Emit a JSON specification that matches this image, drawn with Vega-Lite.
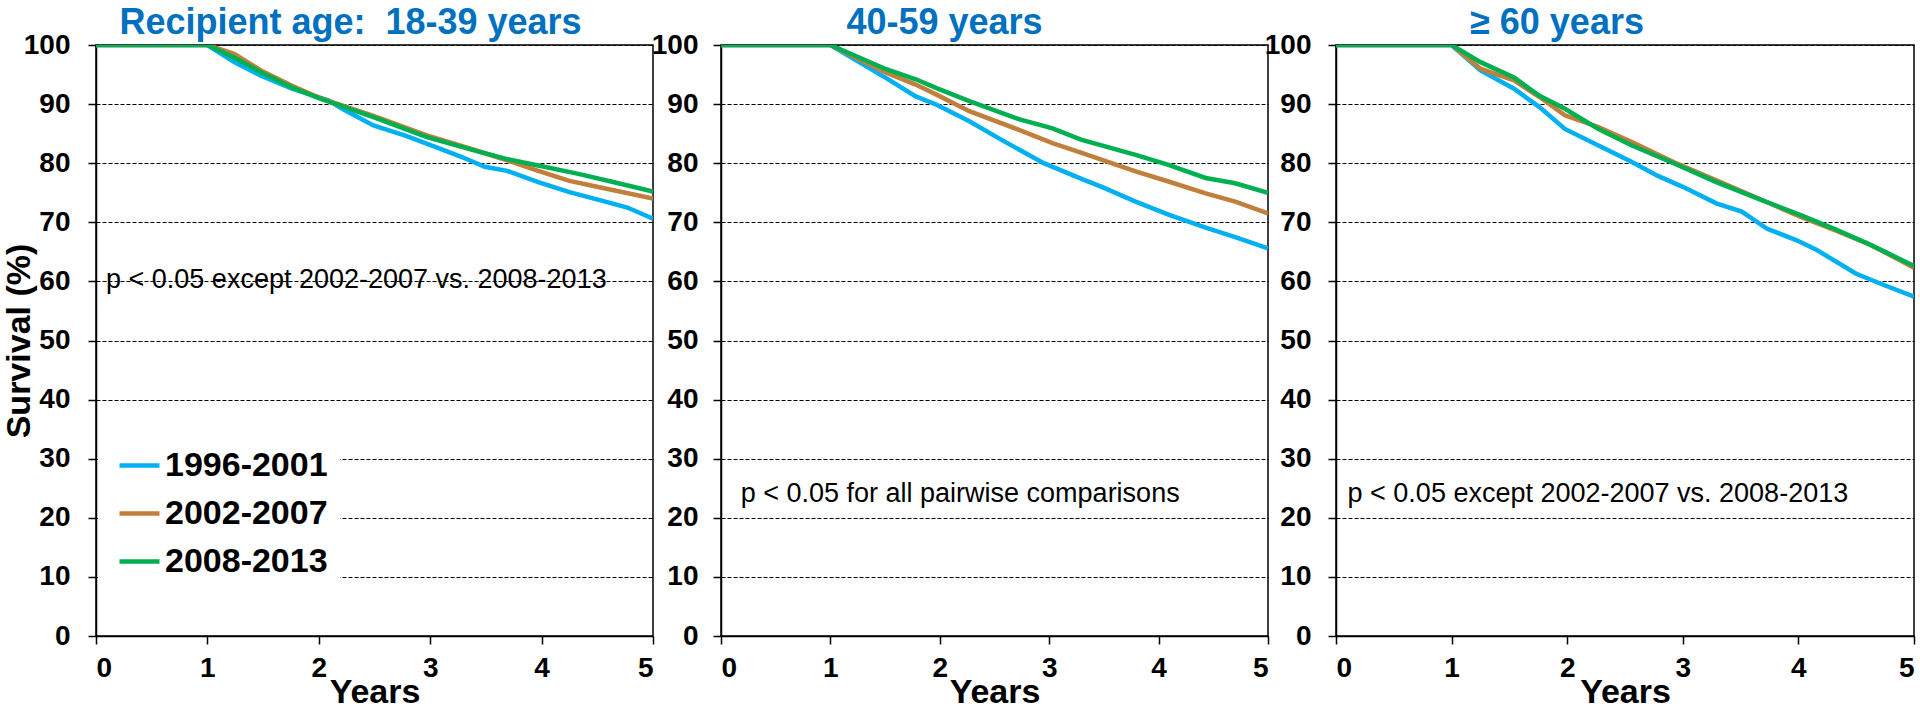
{
  "$schema": "https://vega.github.io/schema/vega-lite/v6.json",
  "background": "white",
  "padding": {"left": 1, "top": 4, "right": 0, "bottom": 0},
  "bounds": "flush",
  "spacing": 68,
  "config": {
    "view": {"stroke": "black", "strokeWidth": 1.5},
    "axis": {
      "domainColor": "black", "domainWidth": 1.5,
      "tickColor": "black", "tickWidth": 1.5, "tickSize": 8,
      "labelFont": "Liberation Sans", "labelFontWeight": "bold", "labelFontSize": 28, "labelColor": "black",
      "titleFont": "Liberation Sans", "titleFontWeight": "bold", "titleFontSize": 34, "titleColor": "black"
    },
    "title": {"font": "Liberation Sans", "fontWeight": "bold", "fontSize": 36, "color": "#0070C0", "anchor": "middle", "frame": "group", "offset": -11}
  },
  "datasets": {
    "curves": [
      {"panel": "a", "cohort": "1996-2001", "year": 0, "survival": 100},
      {"panel": "a", "cohort": "1996-2001", "year": 1, "survival": 100},
      {"panel": "a", "cohort": "1996-2001", "year": 1.24, "survival": 97.1},
      {"panel": "a", "cohort": "1996-2001", "year": 1.48, "survival": 94.8},
      {"panel": "a", "cohort": "1996-2001", "year": 1.76, "survival": 92.6},
      {"panel": "a", "cohort": "1996-2001", "year": 2.09, "survival": 90.6},
      {"panel": "a", "cohort": "1996-2001", "year": 2.21, "survival": 89.2},
      {"panel": "a", "cohort": "1996-2001", "year": 2.49, "survival": 86.4},
      {"panel": "a", "cohort": "1996-2001", "year": 2.77, "survival": 84.7},
      {"panel": "a", "cohort": "1996-2001", "year": 3.01, "survival": 83.0},
      {"panel": "a", "cohort": "1996-2001", "year": 3.29, "survival": 81.0},
      {"panel": "a", "cohort": "1996-2001", "year": 3.49, "survival": 79.4},
      {"panel": "a", "cohort": "1996-2001", "year": 3.69, "survival": 78.7},
      {"panel": "a", "cohort": "1996-2001", "year": 3.97, "survival": 76.8},
      {"panel": "a", "cohort": "1996-2001", "year": 4.25, "survival": 75.1},
      {"panel": "a", "cohort": "1996-2001", "year": 4.53, "survival": 73.7},
      {"panel": "a", "cohort": "1996-2001", "year": 4.77, "survival": 72.5},
      {"panel": "a", "cohort": "1996-2001", "year": 5, "survival": 70.6},
      {"panel": "a", "cohort": "2002-2007", "year": 0, "survival": 100},
      {"panel": "a", "cohort": "2002-2007", "year": 1, "survival": 100},
      {"panel": "a", "cohort": "2002-2007", "year": 1.24, "survival": 98.5},
      {"panel": "a", "cohort": "2002-2007", "year": 1.48, "survival": 95.7},
      {"panel": "a", "cohort": "2002-2007", "year": 1.76, "survival": 93.1},
      {"panel": "a", "cohort": "2002-2007", "year": 2.0, "survival": 91.1},
      {"panel": "a", "cohort": "2002-2007", "year": 2.49, "survival": 88.0},
      {"panel": "a", "cohort": "2002-2007", "year": 2.97, "survival": 84.7},
      {"panel": "a", "cohort": "2002-2007", "year": 3.37, "survival": 82.4},
      {"panel": "a", "cohort": "2002-2007", "year": 3.69, "survival": 80.5},
      {"panel": "a", "cohort": "2002-2007", "year": 3.97, "survival": 78.7},
      {"panel": "a", "cohort": "2002-2007", "year": 4.25, "survival": 77.0},
      {"panel": "a", "cohort": "2002-2007", "year": 4.53, "survival": 75.9},
      {"panel": "a", "cohort": "2002-2007", "year": 5, "survival": 74.0},
      {"panel": "a", "cohort": "2008-2013", "year": 0, "survival": 100},
      {"panel": "a", "cohort": "2008-2013", "year": 1, "survival": 100},
      {"panel": "a", "cohort": "2008-2013", "year": 1.24, "survival": 97.9},
      {"panel": "a", "cohort": "2008-2013", "year": 1.48, "survival": 95.4},
      {"panel": "a", "cohort": "2008-2013", "year": 1.76, "survival": 92.8},
      {"panel": "a", "cohort": "2008-2013", "year": 2.0, "survival": 91.0},
      {"panel": "a", "cohort": "2008-2013", "year": 2.49, "survival": 87.8},
      {"panel": "a", "cohort": "2008-2013", "year": 2.97, "survival": 84.4},
      {"panel": "a", "cohort": "2008-2013", "year": 3.37, "survival": 82.3},
      {"panel": "a", "cohort": "2008-2013", "year": 3.69, "survival": 80.7},
      {"panel": "a", "cohort": "2008-2013", "year": 3.97, "survival": 79.6},
      {"panel": "a", "cohort": "2008-2013", "year": 4.33, "survival": 78.2},
      {"panel": "a", "cohort": "2008-2013", "year": 4.69, "survival": 76.6},
      {"panel": "a", "cohort": "2008-2013", "year": 5, "survival": 75.2},

      {"panel": "b", "cohort": "1996-2001", "year": 0, "survival": 100},
      {"panel": "b", "cohort": "1996-2001", "year": 1, "survival": 100},
      {"panel": "b", "cohort": "1996-2001", "year": 1.51, "survival": 94.4},
      {"panel": "b", "cohort": "1996-2001", "year": 1.78, "survival": 91.3},
      {"panel": "b", "cohort": "1996-2001", "year": 1.97, "survival": 89.9},
      {"panel": "b", "cohort": "1996-2001", "year": 2.27, "survival": 87.1},
      {"panel": "b", "cohort": "1996-2001", "year": 2.54, "survival": 84.2},
      {"panel": "b", "cohort": "1996-2001", "year": 2.95, "survival": 80.0},
      {"panel": "b", "cohort": "1996-2001", "year": 3.29, "survival": 77.4},
      {"panel": "b", "cohort": "1996-2001", "year": 3.48, "survival": 76.0},
      {"panel": "b", "cohort": "1996-2001", "year": 3.79, "survival": 73.5},
      {"panel": "b", "cohort": "1996-2001", "year": 4.09, "survival": 71.3},
      {"panel": "b", "cohort": "1996-2001", "year": 4.43, "survival": 69.1},
      {"panel": "b", "cohort": "1996-2001", "year": 4.70, "survival": 67.5},
      {"panel": "b", "cohort": "1996-2001", "year": 5, "survival": 65.6},
      {"panel": "b", "cohort": "2002-2007", "year": 0, "survival": 100},
      {"panel": "b", "cohort": "2002-2007", "year": 1, "survival": 100},
      {"panel": "b", "cohort": "2002-2007", "year": 1.51, "survival": 95.3},
      {"panel": "b", "cohort": "2002-2007", "year": 1.78, "survival": 93.3},
      {"panel": "b", "cohort": "2002-2007", "year": 1.97, "survival": 91.6},
      {"panel": "b", "cohort": "2002-2007", "year": 2.27, "survival": 88.8},
      {"panel": "b", "cohort": "2002-2007", "year": 2.73, "survival": 85.6},
      {"panel": "b", "cohort": "2002-2007", "year": 3.03, "survival": 83.4},
      {"panel": "b", "cohort": "2002-2007", "year": 3.29, "survival": 81.8},
      {"panel": "b", "cohort": "2002-2007", "year": 3.79, "survival": 78.6},
      {"panel": "b", "cohort": "2002-2007", "year": 4.09, "survival": 76.9},
      {"panel": "b", "cohort": "2002-2007", "year": 4.43, "survival": 74.9},
      {"panel": "b", "cohort": "2002-2007", "year": 4.70, "survival": 73.5},
      {"panel": "b", "cohort": "2002-2007", "year": 5, "survival": 71.5},
      {"panel": "b", "cohort": "2008-2013", "year": 0, "survival": 100},
      {"panel": "b", "cohort": "2008-2013", "year": 1, "survival": 100},
      {"panel": "b", "cohort": "2008-2013", "year": 1.51, "survival": 95.9},
      {"panel": "b", "cohort": "2008-2013", "year": 1.78, "survival": 94.2},
      {"panel": "b", "cohort": "2008-2013", "year": 1.97, "survival": 92.7},
      {"panel": "b", "cohort": "2008-2013", "year": 2.27, "survival": 90.5},
      {"panel": "b", "cohort": "2008-2013", "year": 2.73, "survival": 87.4},
      {"panel": "b", "cohort": "2008-2013", "year": 3.03, "survival": 85.9},
      {"panel": "b", "cohort": "2008-2013", "year": 3.29, "survival": 84.0},
      {"panel": "b", "cohort": "2008-2013", "year": 3.79, "survival": 81.4},
      {"panel": "b", "cohort": "2008-2013", "year": 4.09, "survival": 79.7},
      {"panel": "b", "cohort": "2008-2013", "year": 4.43, "survival": 77.5},
      {"panel": "b", "cohort": "2008-2013", "year": 4.70, "survival": 76.6},
      {"panel": "b", "cohort": "2008-2013", "year": 5, "survival": 75.0},

      {"panel": "c", "cohort": "1996-2001", "year": 0, "survival": 100},
      {"panel": "c", "cohort": "1996-2001", "year": 1, "survival": 100},
      {"panel": "c", "cohort": "1996-2001", "year": 1.25, "survival": 95.7},
      {"panel": "c", "cohort": "1996-2001", "year": 1.54, "survival": 92.6},
      {"panel": "c", "cohort": "1996-2001", "year": 1.76, "survival": 89.5},
      {"panel": "c", "cohort": "1996-2001", "year": 1.98, "survival": 85.8},
      {"panel": "c", "cohort": "1996-2001", "year": 2.27, "survival": 83.0},
      {"panel": "c", "cohort": "1996-2001", "year": 2.56, "survival": 80.2},
      {"panel": "c", "cohort": "1996-2001", "year": 2.78, "survival": 77.9},
      {"panel": "c", "cohort": "1996-2001", "year": 3.0, "survival": 76.0},
      {"panel": "c", "cohort": "1996-2001", "year": 3.29, "survival": 73.2},
      {"panel": "c", "cohort": "1996-2001", "year": 3.51, "survival": 71.8},
      {"panel": "c", "cohort": "1996-2001", "year": 3.73, "survival": 68.9},
      {"panel": "c", "cohort": "1996-2001", "year": 3.98, "survival": 67.0},
      {"panel": "c", "cohort": "1996-2001", "year": 4.16, "survival": 65.3},
      {"panel": "c", "cohort": "1996-2001", "year": 4.5, "survival": 61.3},
      {"panel": "c", "cohort": "1996-2001", "year": 4.75, "survival": 59.3},
      {"panel": "c", "cohort": "1996-2001", "year": 5, "survival": 57.4},
      {"panel": "c", "cohort": "2002-2007", "year": 0, "survival": 100},
      {"panel": "c", "cohort": "2002-2007", "year": 1, "survival": 100},
      {"panel": "c", "cohort": "2002-2007", "year": 1.25, "survival": 96.0},
      {"panel": "c", "cohort": "2002-2007", "year": 1.54, "survival": 94.0},
      {"panel": "c", "cohort": "2002-2007", "year": 1.76, "survival": 91.2},
      {"panel": "c", "cohort": "2002-2007", "year": 1.98, "survival": 88.1},
      {"panel": "c", "cohort": "2002-2007", "year": 2.27, "survival": 86.1},
      {"panel": "c", "cohort": "2002-2007", "year": 2.56, "survival": 83.6},
      {"panel": "c", "cohort": "2002-2007", "year": 2.92, "survival": 80.2},
      {"panel": "c", "cohort": "2002-2007", "year": 3.29, "survival": 77.1},
      {"panel": "c", "cohort": "2002-2007", "year": 3.73, "survival": 73.4},
      {"panel": "c", "cohort": "2002-2007", "year": 4.02, "survival": 70.9},
      {"panel": "c", "cohort": "2002-2007", "year": 4.31, "survival": 68.7},
      {"panel": "c", "cohort": "2002-2007", "year": 4.60, "survival": 66.4},
      {"panel": "c", "cohort": "2002-2007", "year": 4.75, "survival": 64.9},
      {"panel": "c", "cohort": "2002-2007", "year": 5, "survival": 62.3},
      {"panel": "c", "cohort": "2008-2013", "year": 0, "survival": 100},
      {"panel": "c", "cohort": "2008-2013", "year": 1, "survival": 100},
      {"panel": "c", "cohort": "2008-2013", "year": 1.25, "survival": 97.1},
      {"panel": "c", "cohort": "2008-2013", "year": 1.54, "survival": 94.5},
      {"panel": "c", "cohort": "2008-2013", "year": 1.76, "survival": 91.4},
      {"panel": "c", "cohort": "2008-2013", "year": 1.98, "survival": 89.2},
      {"panel": "c", "cohort": "2008-2013", "year": 2.27, "survival": 85.8},
      {"panel": "c", "cohort": "2008-2013", "year": 2.56, "survival": 83.0},
      {"panel": "c", "cohort": "2008-2013", "year": 2.92, "survival": 80.0},
      {"panel": "c", "cohort": "2008-2013", "year": 3.29, "survival": 76.8},
      {"panel": "c", "cohort": "2008-2013", "year": 3.65, "survival": 74.0},
      {"panel": "c", "cohort": "2008-2013", "year": 4.02, "survival": 71.2},
      {"panel": "c", "cohort": "2008-2013", "year": 4.31, "survival": 68.9},
      {"panel": "c", "cohort": "2008-2013", "year": 4.60, "survival": 66.4},
      {"panel": "c", "cohort": "2008-2013", "year": 4.75, "survival": 65.0},
      {"panel": "c", "cohort": "2008-2013", "year": 5, "survival": 62.6}
    ],
    "notes": [
      {"panel": "a", "year": 0.09, "survival": 60.2, "note": "p < 0.05 except 2002-2007 vs. 2008-2013"},
      {"panel": "b", "year": 0.18, "survival": 24.0, "note": "p < 0.05 for all pairwise comparisons"},
      {"panel": "c", "year": 0.1, "survival": 24.0, "note": "p < 0.05 except 2002-2007 vs. 2008-2013"}
    ]
  },
  "resolve": {"scale": {"color": "independent"}, "legend": {"color": "independent"}},
  "hconcat": [
    {
      "width": 557, "height": 591,
      "title": {"text": "Recipient age:\u00a0 18-39 years", "dx": -24},
      "layer": [
        {
          "data": {"name": "curves"},
          "transform": [{"filter": "datum.panel === 'a'"}],
          "mark": {"type": "line", "strokeWidth": 4.5, "clip": true},
          "encoding": {
            "x": {"field": "year", "type": "quantitative", "scale": {"domain": [0, 5], "nice": false},
              "axis": {"title": "Years", "values": [0, 1, 2, 3, 4, 5], "format": "d", "grid": false, "labelPadding": 10, "titlePadding": -7}},
            "y": {"field": "survival", "type": "quantitative", "scale": {"domain": [0, 100], "nice": false},
              "axis": {"title": "Survival (%)", "values": [0, 10, 20, 30, 40, 50, 60, 70, 80, 90, 100], "format": "d", "grid": true, "gridColor": "black", "gridDash": [4, 2], "gridWidth": 1, "labelPadding": 18, "titlePadding": -13}},
            "color": {"field": "cohort", "type": "nominal",
              "scale": {"domain": ["1996-2001", "2002-2007", "2008-2013"], "range": ["#00B0F0", "#C07F3A", "#00B050"]},
              "legend": {"orient": "none", "legendX": 2, "legendY": 386, "title": null, "fillColor": "white", "padding": 12,
                "symbolType": "stroke", "symbolSize": 1600, "symbolStrokeWidth": 4.5, "symbolOffset": 7, "labelOffset": 3, "rowPadding": 8,
                "labelFont": "Liberation Sans", "labelFontSize": 34, "labelFontWeight": "bold", "labelColor": "black", "labelLimit": 400}}
          }
        },
        {
          "data": {"name": "notes"},
          "transform": [{"filter": "datum.panel === 'a'"}],
          "mark": {"type": "text", "align": "left", "baseline": "middle", "font": "Liberation Sans", "fontSize": 27, "color": "black"},
          "encoding": {
            "x": {"field": "year", "type": "quantitative"},
            "y": {"field": "survival", "type": "quantitative"},
            "text": {"field": "note"}
          }
        }
      ]
    },
    {
      "width": 547, "height": 591,
      "title": {"text": "40-59 years", "dx": -50},
      "layer": [
        {
          "data": {"name": "curves"},
          "transform": [{"filter": "datum.panel === 'b'"}],
          "mark": {"type": "line", "strokeWidth": 4.5, "clip": true},
          "encoding": {
            "x": {"field": "year", "type": "quantitative", "scale": {"domain": [0, 5], "nice": false},
              "axis": {"title": "Years", "values": [0, 1, 2, 3, 4, 5], "format": "d", "grid": false, "labelPadding": 10, "titlePadding": -7}},
            "y": {"field": "survival", "type": "quantitative", "scale": {"domain": [0, 100], "nice": false},
              "axis": {"title": null, "values": [0, 10, 20, 30, 40, 50, 60, 70, 80, 90, 100], "format": "d", "grid": true, "gridColor": "black", "gridDash": [4, 2], "gridWidth": 1, "labelPadding": 15}},
            "color": {"field": "cohort", "type": "nominal",
              "scale": {"domain": ["1996-2001", "2002-2007", "2008-2013"], "range": ["#00B0F0", "#C07F3A", "#00B050"]},
              "legend": null}
          }
        },
        {
          "data": {"name": "notes"},
          "transform": [{"filter": "datum.panel === 'b'"}],
          "mark": {"type": "text", "align": "left", "baseline": "middle", "font": "Liberation Sans", "fontSize": 27, "color": "black"},
          "encoding": {
            "x": {"field": "year", "type": "quantitative"},
            "y": {"field": "survival", "type": "quantitative"},
            "text": {"field": "note"}
          }
        }
      ]
    },
    {
      "width": 578, "height": 591,
      "title": {"text": "≥ 60 years", "dx": -68},
      "layer": [
        {
          "data": {"name": "curves"},
          "transform": [{"filter": "datum.panel === 'c'"}],
          "mark": {"type": "line", "strokeWidth": 4.5, "clip": true},
          "encoding": {
            "x": {"field": "year", "type": "quantitative", "scale": {"domain": [0, 5], "nice": false},
              "axis": {"title": "Years", "values": [0, 1, 2, 3, 4, 5], "format": "d", "grid": false, "labelPadding": 10, "titlePadding": -7}},
            "y": {"field": "survival", "type": "quantitative", "scale": {"domain": [0, 100], "nice": false},
              "axis": {"title": null, "values": [0, 10, 20, 30, 40, 50, 60, 70, 80, 90, 100], "format": "d", "grid": true, "gridColor": "black", "gridDash": [4, 2], "gridWidth": 1, "labelPadding": 17}},
            "color": {"field": "cohort", "type": "nominal",
              "scale": {"domain": ["1996-2001", "2002-2007", "2008-2013"], "range": ["#00B0F0", "#C07F3A", "#00B050"]},
              "legend": null}
          }
        },
        {
          "data": {"name": "notes"},
          "transform": [{"filter": "datum.panel === 'c'"}],
          "mark": {"type": "text", "align": "left", "baseline": "middle", "font": "Liberation Sans", "fontSize": 27, "color": "black"},
          "encoding": {
            "x": {"field": "year", "type": "quantitative"},
            "y": {"field": "survival", "type": "quantitative"},
            "text": {"field": "note"}
          }
        }
      ]
    }
  ]
}
